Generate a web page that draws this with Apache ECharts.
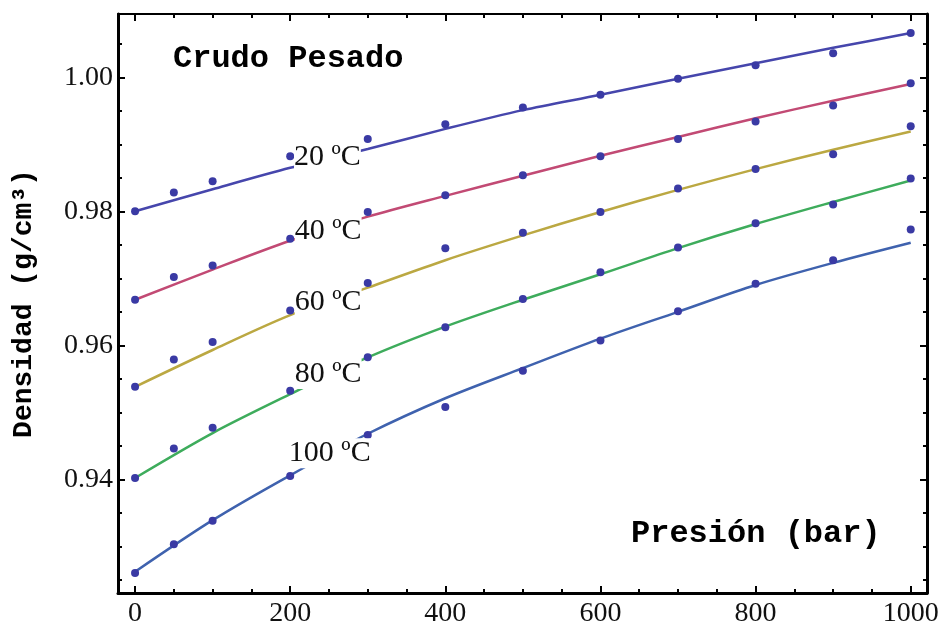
<!DOCTYPE html>
<html>
<head>
<meta charset="utf-8">
<script src="https://cdn.jsdelivr.net/npm/echarts@6/dist/echarts.min.js"></script>
<style>
html,body{margin:0;padding:0;background:#fff;}
#chart{width:941px;height:627px;}
</style>
</head>
<body>
<div id="chart"></div>
<script>
// ---- measured data (Presión in bar, Densidad in g/cm3) ----
const pressures = [0, 50, 100, 200, 300, 400, 500, 600, 700, 800, 900, 1000];
const d20  = [0.9800, 0.9828, 0.9845, 0.9882, 0.9908, 0.9930, 0.9955, 0.9974, 0.9998, 1.0018, 1.0036, 1.0066];
const d40  = [0.9668, 0.9702, 0.9719, 0.9759, 0.9799, 0.9824, 0.9854, 0.9882, 0.9908, 0.9934, 0.9958, 0.9991];
const d60  = [0.9538, 0.9579, 0.9605, 0.9652, 0.9693, 0.9745, 0.9768, 0.9799, 0.9834, 0.9863, 0.9885, 0.9927];
const d80  = [0.9402, 0.9446, 0.9477, 0.9532, 0.9582, 0.9627, 0.9669, 0.9709, 0.9746, 0.9782, 0.9810, 0.9849];
const d100 = [0.9260, 0.9303, 0.9338, 0.9405, 0.9466, 0.9508, 0.9562, 0.9607, 0.9651, 0.9692, 0.9727, 0.9773];

// fitted curves
const fitP  = [0, 100, 200, 300, 400, 500, 600, 700, 800, 900, 1000];
const fit20  = [0.9800, 0.9833, 0.9865, 0.9893, 0.9923, 0.9951, 0.9974, 0.9998, 1.0021, 1.0044, 1.0066];
const fit40  = [0.9668, 0.9713, 0.9756, 0.9792, 0.9823, 0.9853, 0.9883, 0.9911, 0.9939, 0.9965, 0.9990];
const fit60  = [0.9538, 0.9593, 0.9645, 0.9686, 0.9727, 0.9764, 0.9799, 0.9832, 0.9863, 0.9892, 0.9919];
const fit80  = [0.9402, 0.9469, 0.9527, 0.9582, 0.9628, 0.9668, 0.9706, 0.9745, 0.9781, 0.9814, 0.9846];
const fit100 = [0.9262, 0.9339, 0.9406, 0.9468, 0.9521, 0.9566, 0.9610, 0.9650, 0.9690, 0.9723, 0.9753];

// curve labels
const labelTexts = ['20 ºC', '40 ºC', '60 ºC', '80 ºC', '100 ºC'];
const labelX = [248, 249, 249, 249, 251];
const labelY = [0.9881, 0.9771, 0.9664, 0.9557, 0.9439];

// axes
const xMajor = [0, 200, 400, 600, 800, 1000];
const xMinor = [50, 100, 150, 250, 300, 350, 450, 500, 550, 650, 700, 750, 850, 900, 950];
const yMajor = [0.94, 0.96, 0.98, 1.00];
const yMinor = [0.925, 0.93, 0.935, 0.945, 0.95, 0.955, 0.965, 0.97, 0.975, 0.985, 0.99, 0.995, 1.005];

const chartTitle = 'Crudo Pesado';
const xTitle = 'Presión (bar)';
const yTitle = 'Densidad (g/cm³)';

const xMin = -22, xMax = 1021;
const yMin = 0.92303, yMax = 1.00945;

const lineColors = ['#4646ac', '#c24a74', '#bba842', '#3eac5c', '#3f62ae'];
const pointColor = '#3a3aa4';
const seriesPoints = [d20, d40, d60, d80, d100];
const seriesFits = [fit20, fit40, fit60, fit80, fit100];

const serif = '"Liberation Serif", "Times New Roman", serif';
const mono = '"Courier New", "Liberation Mono", monospace';

function zip(a, b) { return a.map((v, i) => [v, b[i]]); }

function axisX(pos, major, width) {
  return {
    type: 'value', position: pos, min: xMin, max: xMax,
    axisLine: { show: width > 0, onZero: false, lineStyle: { color: '#000', width: width } },
    axisTick: { show: true, inside: true, length: major ? 7 : 4, customValues: major ? xMajor : xMinor,
                lineStyle: { color: '#000', width: 2 } },
    axisLabel: pos === 'bottom' && major ? {
      show: true, customValues: xMajor, margin: 7, color: '#111',
      fontFamily: serif, fontSize: 28, formatter: v => String(v)
    } : { show: false },
    splitLine: { show: false }
  };
}
function axisY(pos, major, width) {
  return {
    type: 'value', position: pos, min: yMin, max: yMax,
    axisLine: { show: width > 0, onZero: false, lineStyle: { color: '#000', width: width } },
    axisTick: { show: true, inside: true, length: major ? 7 : 4, customValues: major ? yMajor : yMinor,
                lineStyle: { color: '#000', width: 2 } },
    axisLabel: pos === 'left' && major ? {
      show: true, customValues: yMajor, margin: 5, color: '#111',
      fontFamily: serif, fontSize: 28, formatter: v => v.toFixed(2)
    } : { show: false },
    splitLine: { show: false }
  };
}

const xAxes = [axisX('bottom', true, 3), axisX('bottom', false, 0), axisX('top', true, 2), axisX('top', false, 0)];
const yAxes = [axisY('left', true, 3), axisY('left', false, 0), axisY('right', true, 3), axisY('right', false, 0)];
yAxes[0].name = yTitle;
yAxes[0].nameLocation = 'middle';
yAxes[0].nameRotate = 90;
yAxes[0].nameGap = 80;
yAxes[0].nameTextStyle = { fontFamily: mono, fontWeight: 'bold', fontSize: 28, color: '#000' };

const series = [];
seriesFits.forEach((f, i) => {
  series.push({
    type: 'line', xAxisIndex: 0, yAxisIndex: 0, data: zip(fitP, f),
    showSymbol: false, symbol: 'none', smooth: 0.3, z: 2,
    lineStyle: { color: lineColors[i], width: 2.5 }, silent: true
  });
});
seriesPoints.forEach((d) => {
  series.push({
    type: 'scatter', xAxisIndex: 0, yAxisIndex: 0, data: zip(pressures, d),
    symbol: 'circle', symbolSize: 8, z: 3,
    itemStyle: { color: pointColor, opacity: 1 }, silent: true
  });
});
series.push({
  type: 'scatter', xAxisIndex: 0, yAxisIndex: 0, z: 10, symbolSize: 0, silent: true,
  itemStyle: { opacity: 1 },
  data: labelTexts.map((t, i) => ({ name: t, value: [labelX[i], labelY[i]] })),
  label: {
    show: true, position: 'inside', formatter: p => p.name,
    fontFamily: serif, fontSize: 30, color: '#111', opacity: 1,
    backgroundColor: '#ffffff', padding: [0, 0], lineHeight: 30
  }
});

const chart = echarts.init(document.getElementById('chart'), null, { renderer: 'canvas' });
chart.setOption({
  animation: false,
  backgroundColor: '#fff',
  grid: { left: 118, right: 14, top: 14, bottom: 34, containLabel: false, outerBoundsMode: 'none' },
  xAxis: xAxes,
  yAxis: yAxes,
  series: series,
  graphic: [
    { type: 'text', x: 173, y: 59, z: 20,
      style: { text: chartTitle, font: 'bold 32px ' + mono, fill: '#000', textAlign: 'left', textVerticalAlign: 'middle' } },
    { type: 'text', x: 631, y: 534, z: 20,
      style: { text: xTitle, font: 'bold 32px ' + mono, fill: '#000', textAlign: 'left', textVerticalAlign: 'middle' } }
  ]
});
</script>
</body>
</html>
